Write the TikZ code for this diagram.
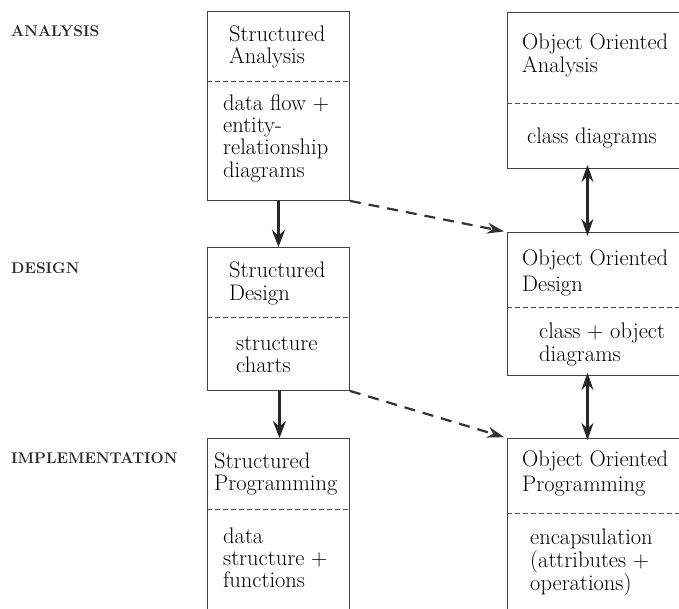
\documentclass[tikz,border=0pt]{standalone}
\usetikzlibrary{arrows.meta,calc}
\newcommand\txtlines[2]{\renewcommand\arraystretch{#1}\begin{tabular}[t]{@{}l@{}}#2\end{tabular}}
\begin{document}
\begin{tikzpicture}[x=1pt,y=-1pt,
  box/.style={draw=black!75, line width=0.9pt, minimum width=#1, anchor=north west, inner sep=0pt},
  box/.default=142pt,
  divider/.style={draw=black!70, line width=0.8pt, dash pattern=on 5pt off 3pt},
  txt/.style={anchor=base west, inner sep=0pt, font=\fontsize{22.5}{22}\selectfont, text=black},
  lab/.style={anchor=base west, inner sep=0pt, font=\fontsize{15.5}{16}\selectfont\bfseries, text=black!85},
  arr/.style={draw=black!85, line width=2.4pt, -{Stealth[length=17pt,width=13pt]}},
  darr/.style={draw=black!85, line width=2.4pt, {Stealth[length=17pt,width=12pt]}-{Stealth[length=17pt,width=12pt]}},
  dasharr/.style={draw=black!80, line width=2.2pt, dash pattern=on 11pt off 8pt, -{Stealth[length=17pt,width=11pt]}, shorten >=3pt}
]
\useasboundingbox (0,0) rectangle (679,608);

% phase labels
\node[lab] (lA) at (11,36) {ANALYSIS};
\node[lab] (lD) at (11,273) {DESIGN};
\node[lab] (lI) at (11,463) {IMPLEMENTATION};

% left column boxes
\node[box, minimum height=189pt] (SA) at (207,11) {};
\node[box, minimum height=143pt] (SD) at (207,247) {};
\node[box, minimum height=170.5pt] (SP) at (207,438) {};
% right column boxes
\node[box=200pt, minimum height=156pt] (OOA) at (507,12) {};
\node[box=200pt, minimum height=143pt] (OOD) at (507,232) {};
\node[box=200pt, minimum height=170.5pt] (OOP) at (507,438) {};

% dividers
\draw[divider] ($(SA.north west)+(0,70)$) -- ($(SA.north east)+(0,70)$);
\draw[divider] ($(SD.north west)+(0,70)$) -- ($(SD.north east)+(0,70)$);
\draw[divider] ($(SP.north west)+(0,71)$) -- ($(SP.north east)+(0,71)$);
\draw[divider] ($(OOA.north west)+(0,91)$) -- ($(OOA.north east)+(0,91)$);
\draw[divider] ($(OOD.north west)+(0,75)$) -- ($(OOD.north east)+(0,75)$);
\draw[divider] ($(OOP.north west)+(0,75)$) -- ($(OOP.north east)+(0,75)$);

% texts left
\node[txt] (SAh) at (229,41) {\txtlines{1}{Structured\\Analysis}};
\node[txt] (SAb) at (223,110) {\txtlines{1.02}{data flow +\\entity-\\relationship\\diagrams}};
\node[txt] (SDh) at (229,277) {\txtlines{1.09}{Structured\\Design}};
\node[txt] (SDb) at (236,350) {\txtlines{1}{structure\\charts}};
\node[txt] (SPh) at (214,468) {\txtlines{1}{Structured\\Programming}};
\node[txt] (SPb) at (223,543) {\txtlines{1.02}{data\\structure +\\functions}};
% texts right
\node[txt] (OAh) at (522,49) {\txtlines{1.05}{Object Oriented\\Analysis}};
\node[txt] (OAb) at (527,143) {class diagrams};
\node[txt] (ODh) at (522,265) {\txtlines{1.2}{Object Oriented\\Design}};
\node[txt] (ODb) at (539,338) {\txtlines{1.05}{class + object\\diagrams}};
\node[txt] (OPh) at (522,466) {\txtlines{1.18}{Object Oriented\\Programming}};
\node[txt] (OPb) at (530,544) {\txtlines{1}{encapsulation\\(attributes +\\operations)}};

% connectors
\draw[arr] (SA.south) -- (SD.north);
\draw[arr] ([xshift=1pt]SD.south) -- ([xshift=1pt]SP.north);
\draw[darr] ([xshift=-20pt,yshift=4pt]OOA.south) -- ([xshift=-20pt,yshift=-4pt]OOD.north);
\draw[darr] ([xshift=-20pt,yshift=3pt]OOD.south) -- ([xshift=-20pt,yshift=-2pt]OOP.north);
\draw[dasharr] (SA.south east) -- (OOD.north west);
\draw[dasharr] (SD.south east) -- (OOP.north west);
\end{tikzpicture}
\end{document}
